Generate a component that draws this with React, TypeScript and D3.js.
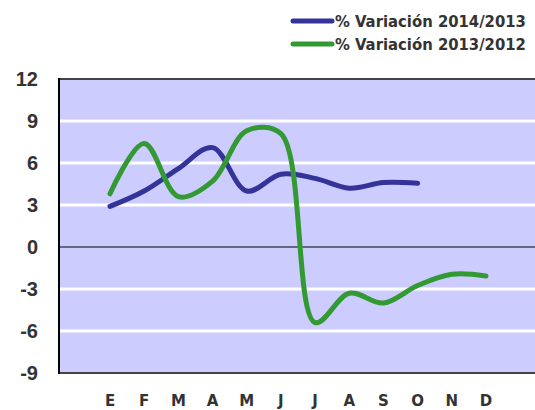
import React from "react";
import * as d3 from "d3";

const months = ["E", "F", "M", "A", "M2", "J", "J2", "A2", "S", "O", "N", "D"];
const monthLabels = ["E", "F", "M", "A", "M", "J", "J", "A", "S", "O", "N", "D"];
const yTicks = [12, 9, 6, 3, 0, -3, -6, -9];

const var2014 = [2.9, 4.0, 5.6, 7.1, 4.0, 5.2, 4.9, 4.2, 4.6, 4.55];
const var2013 = [3.8, 7.4, 3.6, 4.7, 8.3, 8.1, -5.4, -3.3, -4.0, -2.75, -1.95, -2.07];

const seriesNames = ["% Variación 2014/2013", "% Variación 2013/2012"];
const colors = ["#333399", "#339933"];

export default function App() {
  const width = 535;
  const height = 410;
  const left = 59;
  const top = 79;
  const bottom = 373;

  const x = d3.scalePoint<string>().domain(months).range([110, 486]);
  const y = d3.scaleLinear().domain([-9, 12]).range([bottom, top]);

  const line = d3
    .line<number>()
    .x((_, i) => x(months[i]) as number)
    .y((d) => y(d))
    .curve(d3.curveCatmullRom.alpha(0.5));

  const series = [var2014, var2013];

  return (
    <svg
      width={width}
      height={height}
      style={{ position: "absolute", left: 0, top: 0, background: "#fff" }}
    >
      <rect x={left} y={top} width={width - left} height={bottom - top} fill="#ccccff" />
      {yTicks
        .filter((t) => t !== 0 && t !== 12 && t !== -9)
        .map((t) => (
          <line key={t} x1={left} x2={width} y1={y(t)} y2={y(t)} stroke="#fff" strokeWidth={3} />
        ))}
      <line x1={left} x2={width} y1={y(0)} y2={y(0)} stroke="#000" strokeWidth={1} />
      <line x1={left} x2={width} y1={top} y2={top} stroke="#444" strokeWidth={2} />
      <line x1={left} x2={width} y1={bottom} y2={bottom} stroke="#444" strokeWidth={2} />
      <line x1={left} x2={left} y1={top - 1} y2={bottom + 1} stroke="#000" strokeWidth={2} />

      {series.map((s, i) => (
        <path
          key={i}
          d={line(s) || ""}
          fill="none"
          stroke={colors[i]}
          strokeWidth={5}
          strokeLinecap="round"
          strokeLinejoin="round"
        />
      ))}

      <g fontFamily="'Liberation Sans', Arial, sans-serif" fontWeight="bold" fill="#333">
        {yTicks.map((t) => (
          <text key={t} x={38} y={y(t)} dy="0.36em" textAnchor="end" fontSize={20}>
            {t}
          </text>
        ))}
      </g>
      <g fontFamily="'DejaVu Sans', sans-serif" fontWeight="bold" fill="#333">
        {months.map((m, i) => (
          <text key={m} x={x(m)} y={406} textAnchor="middle" fontSize={15}>
            {monthLabels[i]}
          </text>
        ))}
      </g>

      <g fontFamily="'DejaVu Sans Condensed', 'Liberation Sans Narrow', sans-serif" fontWeight="bold" fill="#333">
        {seriesNames.map((n, i) => (
          <g key={n} transform={`translate(0, ${21 + i * 23})`}>
            <line x1={293} x2={332} y1={0} y2={0} stroke={colors[i]} strokeWidth={5} strokeLinecap="round" />
            <text x={335} y={6} fontSize={16.5}>
              {n}
            </text>
          </g>
        ))}
      </g>
    </svg>
  );
}
